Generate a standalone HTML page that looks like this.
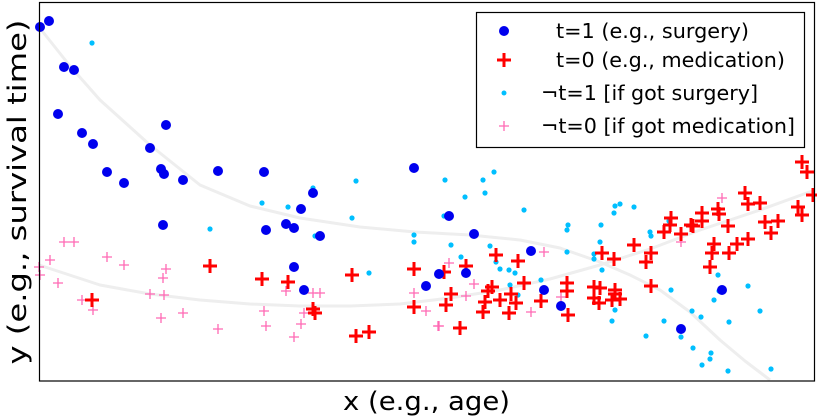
<!DOCTYPE html>
<html><head><meta charset="utf-8"><style>
body{margin:0;background:#fff;}
svg{display:block;font-family:"DejaVu Sans","Liberation Sans",sans-serif;}
</style></head><body>
<svg id="chart" width="817" height="417" viewBox="0 0 817 417" xmlns="http://www.w3.org/2000/svg">
<rect x="0" y="0" width="817" height="417" fill="#fff"/>
<g id="curves"></g>
<g id="marks"></g>
<rect x="39.5" y="2.5" width="775" height="378.5" fill="none" stroke="#000" stroke-width="1.2"/>
<text x="343" y="410" font-size="26" textLength="167" lengthAdjust="spacingAndGlyphs">x (e.g., age)</text>
<text x="0" y="0" font-size="26" text-anchor="middle" textLength="345" lengthAdjust="spacingAndGlyphs" transform="translate(26,192) rotate(-90)">y (e.g., survival time)</text>
<g>
<rect x="476.5" y="12.5" width="328" height="135" fill="#fff" stroke="#000" stroke-width="1.2"/>
<g><circle cx="504" cy="31" r="5" fill="#0000ee"/><text x="556" y="38" font-size="20" textLength="193" lengthAdjust="spacingAndGlyphs">t=1 (e.g., surgery)</text></g>
<g><path d="M497 60h14M504 53v14" stroke="#f00" stroke-width="3"/><text x="556" y="67" font-size="20" textLength="229" lengthAdjust="spacingAndGlyphs">t=0 (e.g., medication)</text></g>
<g><circle cx="504" cy="93" r="2.5" fill="#00bfff"/><text x="541" y="100" font-size="20" textLength="217" lengthAdjust="spacingAndGlyphs">¬t=1 [if got surgery]</text></g>
<g><path d="M499 126h10M504 121v10" stroke="#ff69b4" stroke-width="1.3"/><text x="541" y="133" font-size="20" textLength="254" lengthAdjust="spacingAndGlyphs">¬t=0 [if got medication]</text></g>
</g>
</svg>
<script>
// x: age units (39..815), y: survival units (0..379)
const blueX=[40,49,64,74,58,82,93,107,124,150,166,161,164,183,218,264,313,414,163,301,266,286,294,320,294,304,449,474,531,439,466,426,544,561,722,681];
const blueY=[354,360,314,311,267,248,237,209,198,233,256,212,207,201,210,209,188,213,156,172,151,157,153,145,114,91,165,147,130,107,108,95,91,75,91,52];
const cyanX=[92,313,356,262,288,210,352,315,414,414,369,445,483,494,465,485,524,444,451,461,490,496,500,509,515,510,518,541,568,567,567,594,594,600,601,602,615,620,614,634,615,612,650,651,669,671,646,664,692,701,681,693,711,710,702,728,729,714,719,718,748,760,771];
const cyanY=[338,193,200,178,174,152,163,145,146,139,108,201,201,209,184,188,171,165,136,124,135,119,112,111,108,96,86,101,156,151,129,127,122,139,156,111,175,177,168,174,71,60,149,145,160,91,45,60,70,64,44,33,28,22,16,10,59,81,90,106,95,70,12];
const redX=[210,92,262,288,313,315,352,356,369,414,414,444,466,451,446,460,496,518,492,488,485,483,500,511,516,509,524,541,567,567,568,594,594,600,599,615,615,612,620,602,614,634,651,646,651,664,671,670,681,693,691,702,702,718,719,728,714,712,710,729,737,748,745,748,760,765,778,771,798,802,802,807,813];
const redY=[115,81,102,99,72,68,106,45,49,112,74,109,115,87,76,53,126,120,94,90,79,69,81,87,78,68,98,80,98,90,66,94,83,93,78,91,87,81,82,128,122,136,128,119,95,149,163,156,147,155,156,168,160,172,167,155,137,128,114,128,137,142,188,177,178,159,160,148,174,166,219,209,186];
const pinkX=[64,74,50,39,40,58,107,124,166,163,82,93,150,164,161,183,218,264,266,286,313,320,304,301,294,414,426,438,449,474,466,439,544,531,561,615,681,722];
const pinkY=[139,139,121,114,106,98,124,116,112,103,81,71,87,86,63,68,52,70,55,90,88,88,68,57,44,88,70,55,118,97,85,55,129,69,84,88,139,183];
const upperCurveX=[39,70,100,150,200,250,300,360,415,470,520,560,600,630,660,690,720,745,770];
const upperCurveY=[354,315,281,236,196,175,163,154,149,146,141,133,119,106,91,69,41,20,1];
const lowerCurveX=[39,100,150,200,250,300,350,400,450,500,550,600,650,700,760,815];
const lowerCurveY=[116,96,87,81,77,75,75,77,83,91,102,116,132,151,171,191];

const X0=39,X1=815,Y0=0,Y1=379,PL=39,PR=815,PT=2,PB=381;
function xs(v){return PL+(v-X0)/(X1-X0)*(PR-PL);}
function ys(v){return PB-(v-Y0)/(Y1-Y0)*(PB-PT);}
const NS="http://www.w3.org/2000/svg";
const curves=document.getElementById('curves'),marks=document.getElementById('marks');
function curve(xa,ya,name){
  const p=document.createElementNS(NS,'polyline');
  p.setAttribute('points',xa.map((x,i)=>xs(x)+','+ys(ya[i])).join(' '));
  p.setAttribute('fill','none');p.setAttribute('stroke','#eeeeee');p.setAttribute('stroke-width','3');p.setAttribute('stroke-linejoin','round');
  
  
  curves.appendChild(p);
}
curve(upperCurveX,upperCurveY,'t1-trend-curve');
curve(lowerCurveX,lowerCurveY,'t0-trend-curve');
function dot(x,y,r,c,name){
  const e=document.createElementNS(NS,'circle');
  e.setAttribute('cx',xs(x));e.setAttribute('cy',ys(y));e.setAttribute('r',r);e.setAttribute('fill',c);
  
  
  marks.appendChild(e);
}
function plus(x,y,h,c,w,name){
  const cx=xs(x),cy=ys(y);
  const e=document.createElementNS(NS,'path');
  e.setAttribute('d','M'+(cx-h)+' '+cy+'h'+(2*h)+'M'+cx+' '+(cy-h)+'v'+(2*h));
  e.setAttribute('stroke',c);e.setAttribute('stroke-width',w);e.setAttribute('fill','none');
  
  
  marks.appendChild(e);
}
pinkX.forEach((x,i)=>plus(x,pinkY[i],5,'#ff69b4',1.3,'counterfactual-t0-point'));
cyanX.forEach((x,i)=>dot(x,cyanY[i],2.6,'#00bfff','counterfactual-t1-point'));
redX.forEach((x,i)=>plus(x,redY[i],7,'#ff0000',3,'t0-point'));
blueX.forEach((x,i)=>dot(x,blueY[i],5,'#0000ee','t1-point'));
</script>
</body></html>
